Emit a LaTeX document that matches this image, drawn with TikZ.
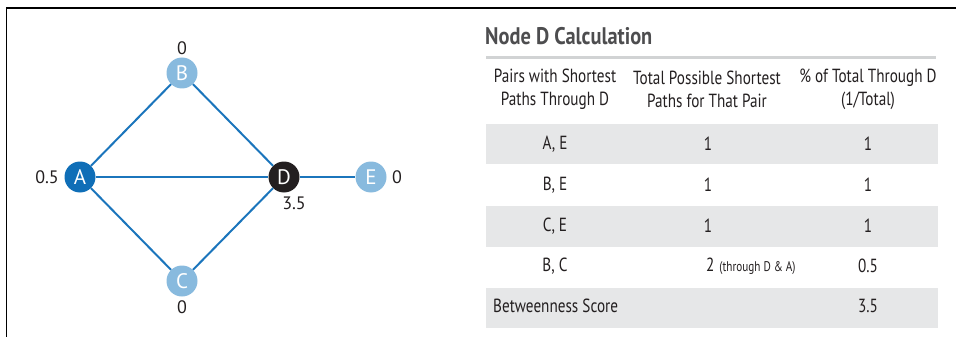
\documentclass[tikz,border=0pt]{standalone}
\usepackage{xcolor}
\usepackage{fontspec}
\setmainfont{PT Sans}
\newfontfamily\tblfont[FakeStretch=0.80]{PT Sans}
\newfontfamily\ttlfont[FakeStretch=0.85]{PT Sans}
\usetikzlibrary{positioning}

\definecolor{edgeblue}{HTML}{1B75BC}
\definecolor{darkblue}{HTML}{0F6EB7}
\definecolor{lightblue}{HTML}{88BADE}
\definecolor{nodeblack}{HTML}{231F20}
\definecolor{rowgray}{HTML}{E6E7E8}
\definecolor{rulegray}{HTML}{D1D3D4}
\definecolor{titlegray}{HTML}{4D4D4F}

\begin{document}
\begin{tikzpicture}[
    x=1pt, y=-1pt,
    vtx/.style={circle, minimum size=31pt, inner sep=0pt, text=white,
                font=\fontsize{21}{21}\selectfont},
    score/.style={inner sep=0pt, text=nodeblack,
                  font=\fontsize{18}{18}\selectfont},
    edge/.style={draw=edgeblue, line width=2pt},
    cell/.style={inner sep=0pt, text=nodeblack,
                 font=\tblfont\fontsize{19}{23}\selectfont},
    hdr/.style={cell, align=center},
    band/.style={fill=rowgray, draw=none},
  ]
  \useasboundingbox (0,0) rectangle (956,337);

  % -- Frame
  \draw[line width=1.5pt] (6.5,337) -- (6.5,8) -- (956,8);

  % -- Graph
  \node[vtx, fill=darkblue]  (A) at (80, 177)  {A};
  \node[vtx, fill=lightblue] (B) at (182, 73)  {B};
  \node[vtx, fill=lightblue] (C) at (182, 281) {C};
  \node[vtx, fill=nodeblack] (D) at (284, 177) {D};
  \node[vtx, fill=lightblue] (E) at (371, 177) {E};

  \draw[edge] (A) -- (B);
  \draw[edge] (A) -- (C);
  \draw[edge] (A) -- (D);
  \draw[edge] (B) -- (D);
  \draw[edge] (C) -- (D);
  \draw[edge] (D) -- (E);

  \node[score] (sA) at (47, 177)  {0.5};
  \node[score] (sB) at (182, 48)  {0};
  \node[score] (sC) at (182, 307) {0};
  \node[score] (sD) at (294, 203) {3.5};
  \node[score] (sE) at (397, 177) {0};

  % -- Table
  \node[anchor=west, inner sep=0pt, text=titlegray,
        font=\ttlfont\bfseries\fontsize{24}{24}\selectfont]
    (title) at (485, 36) {Node D Calculation};
  \draw[rulegray, line width=3pt] (486, 58) -- (936, 58);

  \fill[band] (486, 124) rectangle (938, 164);
  \fill[band] (486, 206) rectangle (938, 247);
  \fill[band] (486, 288) rectangle (938, 328);

  \node[hdr] (h1) at (555, 89) {Pairs with Shortest\\Paths Through D};
  \node[hdr] (h2) at (707, 89) {Total Possible Shortest\\Paths for That Pair};
  \node[hdr] (h3) at (868, 89) {\% of Total Through D\\(1/Total)};

  \node[cell] (p1) at (555, 144) {A, E};
  \node[cell] (t1) at (708, 144) {1};
  \node[cell] (f1) at (868, 144) {1};

  \node[cell] (p2) at (555, 185) {B, E};
  \node[cell] (t2) at (708, 185) {1};
  \node[cell] (f2) at (868, 185) {1};

  \node[cell] (p3) at (555, 226) {C, E};
  \node[cell] (t3) at (708, 226) {1};
  \node[cell] (f3) at (868, 226) {1};

  \node[cell] (p4) at (555, 266) {B, C};
  \node[cell, anchor=west] (t4) at (706, 266)
    {2\hspace{5pt}{\fontsize{14}{14}\selectfont(through D \& A)}};
  \node[cell] (f4) at (868, 266) {0.5};

  \node[cell, anchor=west] (p5) at (493, 306) {Betweenness Score};
  \node[cell] (f5) at (868, 306) {3.5};

\end{tikzpicture}
\end{document}
